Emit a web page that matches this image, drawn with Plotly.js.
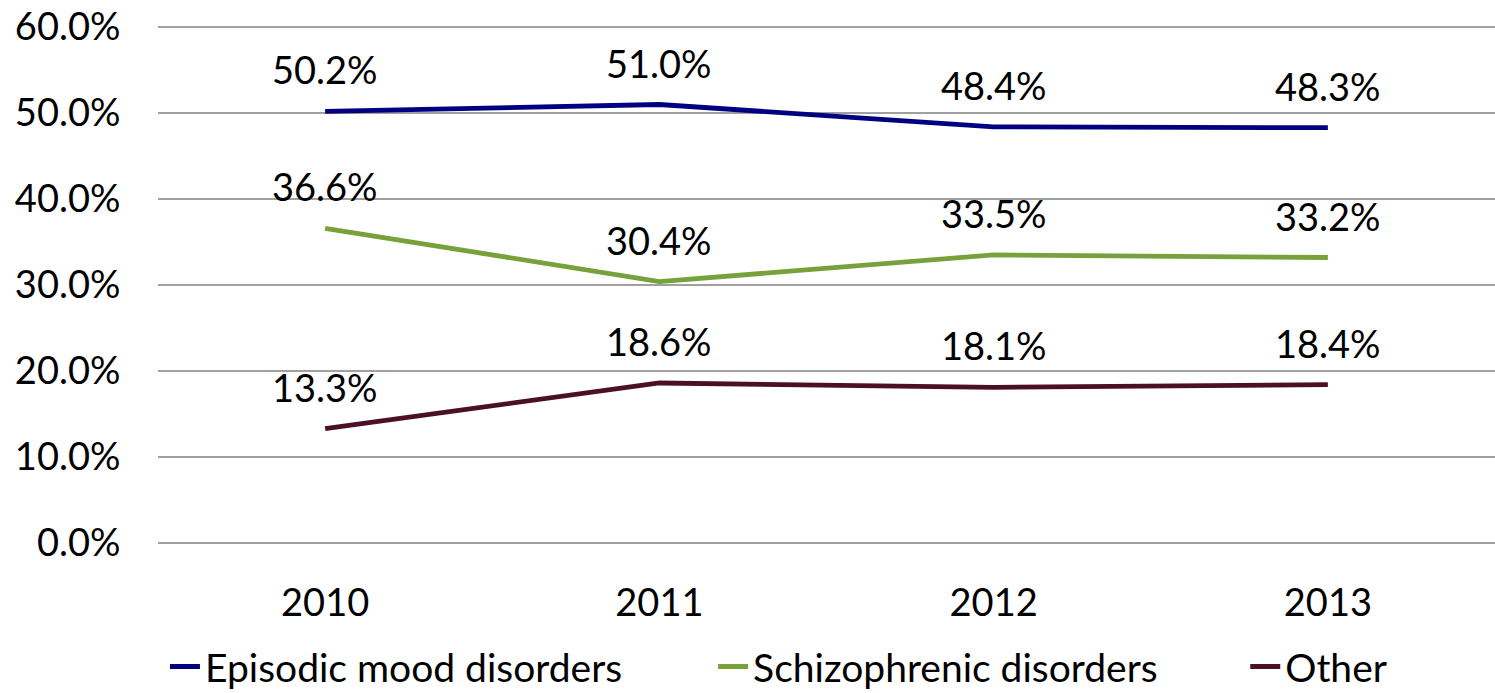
<!DOCTYPE html>
<html>
<head>
<meta charset="utf-8">
<script src="https://cdn.plot.ly/plotly-3.0.1.min.js"></script>
<style>html,body{margin:0;padding:0;background:#fff;}#chart{width:1495px;height:693px;}</style>
</head>
<body>
<div id="chart"></div>
<script>
const years = ["2010", "2011", "2012", "2013"];
const episodicMood = [50.2, 51.0, 48.4, 48.3];
const schizophrenic = [36.6, 30.4, 33.5, 33.2];
const other = [13.3, 18.6, 18.1, 18.4];
const seriesNames = ["Episodic mood disorders", "Schizophrenic disorders", "Other"];
const seriesColors = ["#000080", "#77A23B", "#4B1028"];
const yTicks = [0, 10, 20, 30, 40, 50, 60];

const FONT = "Lato, 'Open Sans', sans-serif";
const FS = 38;
const allSeries = [episodicMood, schizophrenic, other];
const legendIds = ["legend", "legend2", "legend3"];
const legendX = [0.0052, 0.4152, 0.8132];

const traces = allSeries.map((vals, i) => ({
  type: "scatter",
  mode: "lines",
  x: years,
  y: vals,
  name: seriesNames[i],
  legend: legendIds[i],
  line: {color: seriesColors[i], width: 4.8},
  hoverinfo: "skip"
}));

const annotations = [];
allSeries.forEach(vals => {
  vals.forEach((v, j) => {
    annotations.push({
      x: j, y: v, xref: "x", yref: "y",
      text: v.toFixed(1) + "%",
      showarrow: false,
      yshift: 42,
      font: {family: FONT, size: FS, color: "#000"}
    });
  });
});

const layout = {
  width: 1495, height: 693,
  margin: {l: 158, r: 0, t: 24.85, b: 147.85},
  paper_bgcolor: "#fff", plot_bgcolor: "#fff",
  showlegend: true,
  font: {family: FONT, size: FS, color: "#000"},
  xaxis: {
    type: "category",
    range: [-0.5, 3.5],
    showgrid: false,
    zeroline: false,
    showline: false,
    ticks: "outside", ticklen: 24, tickcolor: "rgba(0,0,0,0)",
    tickfont: {family: FONT, size: FS, color: "#000"}
  },
  yaxis: {
    range: [-0.25, 60.25],
    tickvals: yTicks,
    ticktext: yTicks.map(t => t.toFixed(1) + "%"),
    showgrid: true, gridcolor: "#A0A0A0", gridwidth: 1.5,
    zeroline: false, showline: false,
    ticks: "outside", ticklen: 29, tickcolor: "rgba(0,0,0,0)",
    tickfont: {family: FONT, size: FS, color: "#000"}
  },
  annotations: annotations
};
legendIds.forEach((id, i) => {
  layout[id] = {
    orientation: "h",
    x: legendX[i], xanchor: "left",
    yref: "container",
    y: 0.038, yanchor: "middle",
    font: {family: FONT, size: 39, color: "#000"},
    bgcolor: "rgba(0,0,0,0)"
  };
});

Plotly.newPlot("chart", traces, layout, {displayModeBar: false, staticPlot: true});
</script>
</body>
</html>
